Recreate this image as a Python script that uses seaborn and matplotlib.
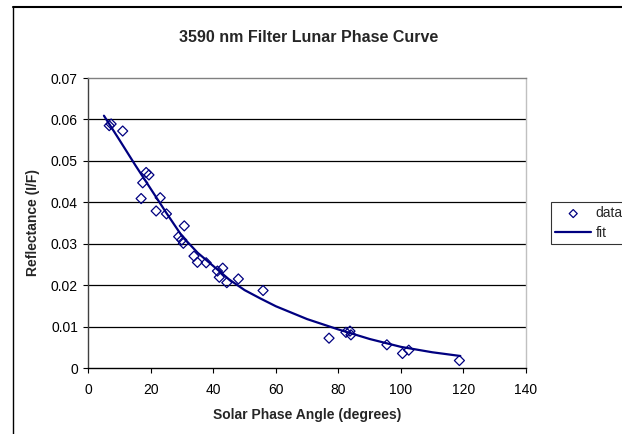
"""
plot.py

3590 nm filter lunar phase curve, reflectance vs solar phase angle.
"""

import matplotlib
matplotlib.use("Agg")
import matplotlib.pyplot as plt
from matplotlib.lines import Line2D
import pandas as pd
import seaborn as sns

phase_angle = [6.7, 7.3, 11.0, 16.9, 17.4, 18.5, 19.4, 21.7, 23.0, 25.0,
               28.9, 29.9, 30.4, 30.7, 33.8, 34.9, 37.7, 41.3, 41.9, 43.0,
               44.3, 48.0, 55.9, 77.0, 82.4, 83.7, 84.0, 95.5, 100.5, 102.5,
               118.7]
reflectance = [0.0585, 0.0589, 0.0572, 0.0409, 0.0447, 0.0472, 0.0466, 0.0379,
               0.0411, 0.0372, 0.0317, 0.0309, 0.0301, 0.0343, 0.0270, 0.0255,
               0.0254, 0.0234, 0.0219, 0.0241, 0.0206, 0.0215, 0.0187, 0.0072,
               0.0086, 0.0089, 0.0080, 0.0056, 0.0035, 0.0043, 0.0018]

# fitted curve
fit_angle = [5, 10, 15, 20, 25, 30, 35, 40, 45, 50, 55, 60, 70, 80, 90, 100,
             110, 119]
fit_refl = [0.0609, 0.0550, 0.0490, 0.0432, 0.0374, 0.0318, 0.0278, 0.0246,
            0.0214, 0.0188, 0.0168, 0.0149, 0.0118, 0.0093, 0.0070, 0.0051,
            0.0038, 0.0029]

x_ticks = [0, 20, 40, 60, 80, 100, 120, 140]
y_ticks = [0, 0.01, 0.02, 0.03, 0.04, 0.05, 0.06, 0.07]
y_labels = ["0", "0.01", "0.02", "0.03", "0.04", "0.05", "0.06", "0.07"]

navy = "#000080"

sns.set_style("white")
plt.rcParams["font.family"] = ["Liberation Sans", "DejaVu Sans"]

data_df = pd.DataFrame({"angle": phase_angle, "refl": reflectance})
fit_df = pd.DataFrame({"angle": fit_angle, "refl": fit_refl})

fig = plt.figure(figsize=(6.22, 4.34), dpi=100)
ax = fig.add_axes([88.3 / 622, 66 / 434, 437.7 / 622, 290 / 434])

# outer chart frame
fig.add_artist(Line2D([12.7 / 622, 12.7 / 622], [0, 1 - 6.5 / 434],
                      color="black", lw=1.0, transform=fig.transFigure))
fig.add_artist(Line2D([12.7 / 622, 1], [1 - 6.5 / 434, 1 - 6.5 / 434],
                      color="black", lw=1.5, transform=fig.transFigure))

for y in y_ticks[1:-1]:
    ax.axhline(y, color="black", lw=0.9, zorder=0)

sns.scatterplot(data=data_df, x="angle", y="refl", ax=ax, marker="D",
                s=26, facecolor="none", edgecolor=navy, linewidth=0.9,
                label="data", zorder=3)
sns.lineplot(data=fit_df, x="angle", y="refl", ax=ax, color=navy, lw=1.6,
             label="fit", zorder=4)

ax.set_xlim(0, 140)
ax.set_ylim(0, 0.07)
ax.set_xticks(x_ticks)
ax.set_yticks(y_ticks)
ax.set_yticklabels(y_labels)
ax.tick_params(axis="both", labelsize=10, length=3.5, width=0.8,
               direction="out", colors="black")
ax.tick_params(axis="x", pad=7)
ax.tick_params(axis="y", pad=4)
ax.xaxis.set_ticks_position("bottom")
ax.yaxis.set_ticks_position("left")

ax.spines["left"].set_color("#404040")
ax.spines["bottom"].set_color("black")
ax.spines["top"].set_color("#808080")
ax.spines["right"].set_color("#c0c0c0")
for s in ax.spines.values():
    s.set_linewidth(1.0)

ax.set_xlabel("Solar Phase Angle (degrees)", fontsize=10, fontweight="bold",
              labelpad=8)
ax.set_ylabel("Reflectance (I/F)", fontsize=10, fontweight="bold",
              labelpad=8)
fig.text(309 / 622, 1 - 37 / 434, "3590 nm Filter Lunar Phase Curve",
         ha="center", va="center", fontsize=11.5, fontweight="bold")

ax.legend(loc="center left", bbox_to_anchor=(551 / 622, 1 - 223 / 434),
          bbox_transform=fig.transFigure, frameon=True, fancybox=False,
          edgecolor="black", fontsize=10, handlelength=2.6,
          handletextpad=0.3, borderpad=0.3, labelspacing=0.4,
          borderaxespad=0, markerscale=0.8)
ax.get_legend().get_frame().set_linewidth(0.8)

fig.savefig("out.png", dpi=100)
